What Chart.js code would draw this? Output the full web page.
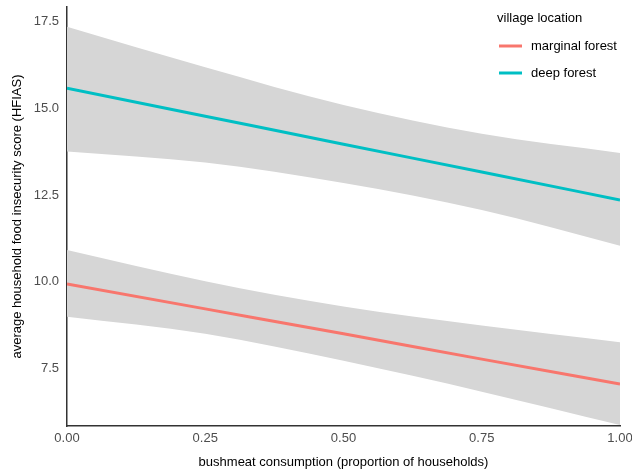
<!DOCTYPE html>
<html>
<head>
<meta charset="utf-8">
<script src="https://cdn.jsdelivr.net/npm/chart.js@4"></script>
<style>
  body { margin: 0; background: #fff; }
</style>
</head>
<body>
<canvas id="Chart1" width="632" height="470"></canvas>
<script>
// values
const xs = [0, 0.25, 0.5, 0.75, 1];
const marginalFit = [9.94, 9.22, 8.50, 7.77, 7.05];
const marginalUpper = [10.92, 10.02, 9.29, 8.74, 8.26];
const marginalLower = [8.99, 8.50, 7.72, 6.83, 5.87];
const deepFit = [15.59, 14.78, 13.97, 13.17, 12.36];
const deepUpper = [17.36, 16.19, 15.10, 14.27, 13.72];
const deepLower = [13.76, 13.44, 12.85, 12.07, 11.04];
const xTicks = [0, 0.25, 0.5, 0.75, 1];
const yTicks = [7.5, 10, 12.5, 15, 17.5];
const seriesNames = ["marginal forest", "deep forest"];
const seriesColors = ["#F8766D", "#00BFC4"];
const legendTitle = "village location";

const pts = ys => xs.map((x, i) => ({x: x, y: ys[i]}));
const band = "rgb(214,214,214)";
const FONT = "'Liberation Sans', Arial, sans-serif";

const legendPlugin = {
    id: 'ggLegend',
    afterDraw(chart) {
        const ctx = chart.ctx;
        ctx.save();
        ctx.font = "13px " + FONT;
        ctx.fillStyle = "#000";
        ctx.textBaseline = "middle";
        ctx.textAlign = "left";
        ctx.fillText(legendTitle, 497, 18);
        seriesNames.forEach((name, i) => {
            const y = 46 + i * 27;
            ctx.strokeStyle = seriesColors[i];
            ctx.lineWidth = 3;
            ctx.beginPath();
            ctx.moveTo(499, y);
            ctx.lineTo(522, y);
            ctx.stroke();
            ctx.fillText(name, 531, y);
        });
        ctx.restore();
    }
};

new Chart(document.getElementById('Chart1'), {
    type: 'line',
    plugins: [legendPlugin],
    data: {
        datasets: [{
            data: pts(deepUpper),
            order: 2,
            borderWidth: 0,
            pointRadius: 0,
            backgroundColor: band,
            fill: '+1'
        }, {
            data: pts(deepLower),
            order: 2,
            borderWidth: 0,
            pointRadius: 0,
            fill: false
        }, {
            data: pts(marginalUpper),
            order: 2,
            borderWidth: 0,
            pointRadius: 0,
            backgroundColor: band,
            fill: '+1'
        }, {
            data: pts(marginalLower),
            order: 2,
            borderWidth: 0,
            pointRadius: 0,
            fill: false
        }, {
            label: seriesNames[0],
            data: pts(marginalFit),
            order: 0,
            borderColor: seriesColors[0],
            borderWidth: 3,
            pointRadius: 0,
            fill: false
        }, {
            label: seriesNames[1],
            data: pts(deepFit),
            order: 0,
            borderColor: seriesColors[1],
            borderWidth: 3,
            pointRadius: 0,
            fill: false
        }]
    },
    options: {
        responsive: false,
        animation: false,
        cubicInterpolationMode: 'monotone',
        layout: { padding: { top: 7, right: 12, left: 0, bottom: 0 } },
        plugins: {
            legend: { display: false },
            tooltip: { enabled: false }
        },
        scales: {
            x: {
                type: 'linear',
                min: 0,
                max: 1,
                afterBuildTicks: s => { s.ticks = xTicks.map(v => ({value: v})); },
                afterFit: s => { s.height = 44; s.paddingLeft = 0; s.paddingRight = 0; },
                grid: { display: false, drawTicks: false },
                border: { display: true, color: "#333", width: 1.5 },
                ticks: {
                    color: "#4d4d4d",
                    font: { family: FONT, size: 13 },
                    padding: 5,
                    maxRotation: 0,
                    callback: v => v.toFixed(2)
                },
                title: {
                    display: true,
                    text: "bushmeat consumption (proportion of households)",
                    color: "#000",
                    font: { family: FONT, size: 13 },
                    padding: { top: 6, bottom: 0 }
                }
            },
            y: {
                type: 'linear',
                min: 5.84,
                max: 17.93,
                afterBuildTicks: s => { s.ticks = yTicks.map(v => ({value: v})); },
                afterFit: s => { s.width = 67; s.paddingTop = 0; s.paddingBottom = 0; },
                grid: { display: false, drawTicks: false },
                border: { display: true, color: "#333", width: 1.5 },
                ticks: {
                    color: "#4d4d4d",
                    font: { family: FONT, size: 13 },
                    padding: 8,
                    callback: v => v.toFixed(1)
                },
                title: {
                    display: true,
                    text: "average household food insecurity score (HFIAS)",
                    color: "#000",
                    font: { family: FONT, size: 13 },
                    padding: { top: 10, bottom: 4 }
                }
            }
        }
    }
});
</script>
</body>
</html>
